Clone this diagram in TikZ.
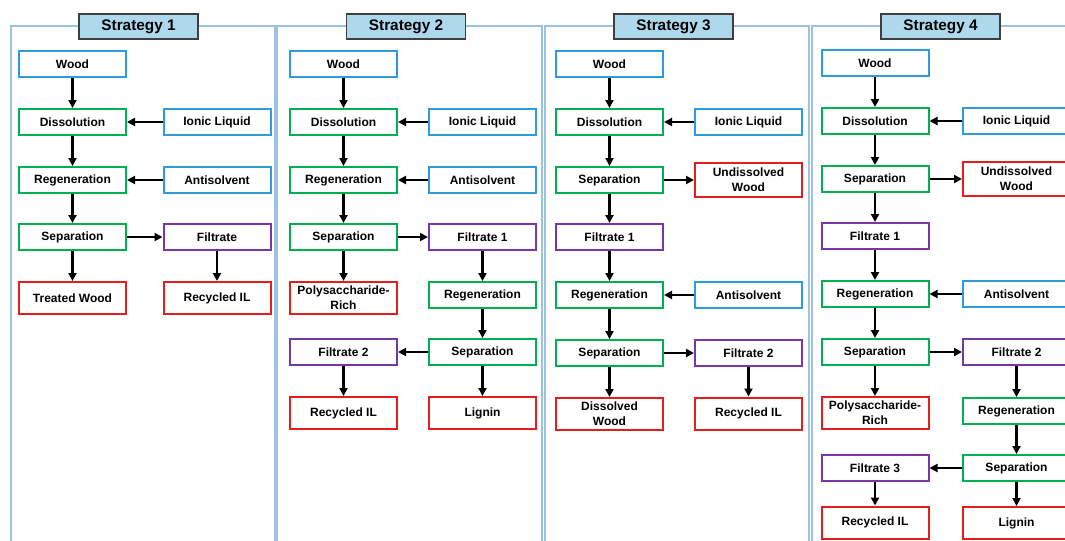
\documentclass[tikz,border=0pt]{standalone}
\usepackage{fontspec}
\setmainfont{Liberation Sans}
\usetikzlibrary{arrows.meta}
\definecolor{bxblue}{HTML}{2E9BDA}
\definecolor{bxgreen}{HTML}{00B050}
\definecolor{bxred}{HTML}{E41E1E}
\definecolor{bxpurple}{HTML}{7A35A8}
\definecolor{panelc}{HTML}{9CC3DD}
\definecolor{hdrfill}{HTML}{AED8EC}
\definecolor{hdrdraw}{HTML}{3F3F3F}
\tikzset{
  box/.style={draw, line width=1.5pt, fill=white, minimum width=80.25pt, minimum height=19.5pt,
    inner sep=0pt, align=center, font=\bfseries\fontsize{9}{11.2}\selectfont},
  tall/.style={minimum height=24pt},
  tallx/.style={minimum height=26pt},
  bb/.style={box, draw=bxblue},
  gb/.style={box, draw=bxgreen},
  rb/.style={box, draw=bxred},
  pb/.style={box, draw=bxpurple},
  panel/.style={draw=panelc, line width=1.3pt},
  hdr/.style={draw=hdrdraw, fill=hdrfill, line width=0.8pt, minimum width=89.25pt, minimum height=18.75pt,
    inner sep=0pt, font=\bfseries\fontsize{11.5}{13}\selectfont},
  arr/.style={line width=1.7pt, -{Triangle[length=6pt,width=6pt]}}
}
\begin{document}
\begin{tikzpicture}[x=0.75pt,y=-0.75pt]
\clip (0,0) rectangle (1065,540);
\fill[white] (0,0) rectangle (1065,540);
% panels
\draw[panel] (11,26) rectangle (275,570);
\draw[panel] (277,26) rectangle (542,570);
\draw[panel] (545,26) rectangle (809,570);
\draw[panel] (812,26) rectangle (1090,570);
% headers
\node[hdr] (h1) at (138.5,26.5) {Strategy 1};
\node[hdr] (h2) at (406,26.5) {Strategy 2};
\node[hdr] (h3) at (673.5,26.5) {Strategy 3};
\node[hdr] (h4) at (940.5,26.5) {Strategy 4};
% Strategy 1
\node[bb] (w1) at (72.5,64) {Wood};
\node[gb] (d1) at (72.5,122) {Dissolution};
\node[bb] (il1) at (217,122) {Ionic Liquid};
\node[gb] (r1) at (72.5,180) {Regeneration};
\node[bb] (as1) at (217,180) {Antisolvent};
\node[gb] (s1) at (72.5,237) {Separation};
\node[pb] (f1) at (217,237) {Filtrate};
\node[rb,tall] (tw1) at (72.5,298) {Treated Wood};
\node[rb,tall] (ril1) at (217,298) {Recycled IL};
\draw[arr] (w1) -- (d1);
\draw[arr] (il1) -- (d1);
\draw[arr] (d1) -- (r1);
\draw[arr] (as1) -- (r1);
\draw[arr] (r1) -- (s1);
\draw[arr] (s1) -- (f1);
\draw[arr] (s1) -- (tw1);
\draw[arr] (f1) -- (ril1);
% Strategy 2
\node[bb] (w2) at (343.5,64) {Wood};
\node[gb] (d2) at (343.5,122) {Dissolution};
\node[bb] (il2) at (482.5,122) {Ionic Liquid};
\node[gb] (r2) at (343.5,180) {Regeneration};
\node[bb] (as2) at (482.5,180) {Antisolvent};
\node[gb] (s2) at (343.5,237) {Separation};
\node[pb] (f12) at (482.5,237) {Filtrate 1};
\node[rb,tall] (p2) at (343.5,298) {Polysaccharide-\\Rich};
\node[gb] (rg2) at (482.5,295) {Regeneration};
\node[gb] (sp2) at (482.5,352) {Separation};
\node[pb] (f22) at (343.5,352) {Filtrate 2};
\node[rb,tall] (ril2) at (343.5,413) {Recycled IL};
\node[rb,tall] (lg2) at (482.5,413) {Lignin};
\draw[arr] (w2) -- (d2);
\draw[arr] (il2) -- (d2);
\draw[arr] (d2) -- (r2);
\draw[arr] (as2) -- (r2);
\draw[arr] (r2) -- (s2);
\draw[arr] (s2) -- (f12);
\draw[arr] (s2) -- (p2);
\draw[arr] (f12) -- (rg2);
\draw[arr] (rg2) -- (sp2);
\draw[arr] (sp2) -- (f22);
\draw[arr] (sp2) -- (lg2);
\draw[arr] (f22) -- (ril2);
% Strategy 3
\node[bb] (w3) at (609.5,64) {Wood};
\node[gb] (d3) at (609.5,122) {Dissolution};
\node[bb] (il3) at (748.5,122) {Ionic Liquid};
\node[gb] (s3) at (609.5,180) {Separation};
\node[rb,tallx] (uw3) at (748.5,180) {Undissolved\\Wood};
\node[pb] (f13) at (609.5,237) {Filtrate 1};
\node[gb] (r3) at (609.5,295) {Regeneration};
\node[bb] (as3) at (748.5,295) {Antisolvent};
\node[gb] (sp3) at (609.5,353) {Separation};
\node[pb] (f23) at (748.5,353) {Filtrate 2};
\node[rb,tall] (dw3) at (609.5,414) {Dissolved\\Wood};
\node[rb,tall] (ril3) at (748.5,413.5) {Recycled IL};
\draw[arr] (w3) -- (d3);
\draw[arr] (il3) -- (d3);
\draw[arr] (d3) -- (s3);
\draw[arr] (s3) -- (uw3);
\draw[arr] (s3) -- (f13);
\draw[arr] (f13) -- (r3);
\draw[arr] (as3) -- (r3);
\draw[arr] (r3) -- (sp3);
\draw[arr] (sp3) -- (f23);
\draw[arr] (sp3) -- (dw3);
\draw[arr] (f23) -- (ril3);
% Strategy 4
\node[bb] (w4) at (875,63) {Wood};
\node[gb] (d4) at (875,121) {Dissolution};
\node[bb] (il4) at (1016.5,121) {Ionic Liquid};
\node[gb] (s4) at (875,179) {Separation};
\node[rb,tallx] (uw4) at (1016.5,179) {Undissolved\\Wood};
\node[pb] (f14) at (875,236) {Filtrate 1};
\node[gb] (r4) at (875,294) {Regeneration};
\node[bb] (as4) at (1016.5,294) {Antisolvent};
\node[gb] (sp4) at (875,352) {Separation};
\node[pb] (f24) at (1016.5,352) {Filtrate 2};
\node[rb,tall] (p4) at (875,413) {Polysaccharide-\\Rich};
\node[gb] (rg4) at (1016.5,411) {Regeneration};
\node[gb] (sp42) at (1016.5,468) {Separation};
\node[pb] (f34) at (875,468) {Filtrate 3};
\node[rb,tall] (ril4) at (875,522.5) {Recycled IL};
\node[rb,tall] (lg4) at (1016.5,523) {Lignin};
\draw[arr] (w4) -- (d4);
\draw[arr] (il4) -- (d4);
\draw[arr] (d4) -- (s4);
\draw[arr] (s4) -- (uw4);
\draw[arr] (s4) -- (f14);
\draw[arr] (f14) -- (r4);
\draw[arr] (as4) -- (r4);
\draw[arr] (r4) -- (sp4);
\draw[arr] (sp4) -- (f24);
\draw[arr] (sp4) -- (p4);
\draw[arr] (f24) -- (rg4);
\draw[arr] (rg4) -- (sp42);
\draw[arr] (sp42) -- (f34);
\draw[arr] (sp42) -- (lg4);
\draw[arr] (f34) -- (ril4);
\end{tikzpicture}
\end{document}
